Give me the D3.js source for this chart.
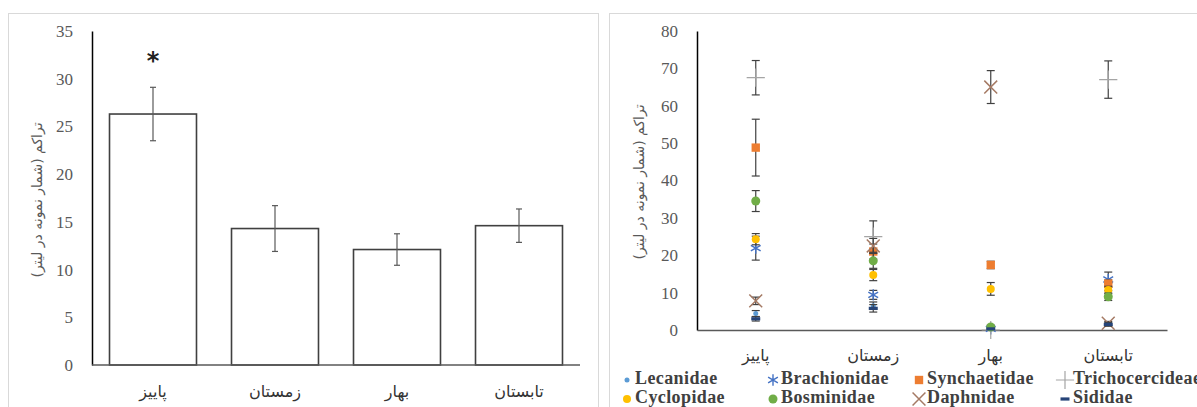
<!DOCTYPE html>
<html><head><meta charset="utf-8">
<script src="https://cdn.jsdelivr.net/npm/d3@7"></script>
<style>
html,body{margin:0;padding:0;background:#fff;}
svg{display:block;}
.serif{font-family:"Liberation Serif","DejaVu Serif","Times New Roman",serif;}
.persian{font-family:"DejaVu Sans",sans-serif;}
</style>
</head><body>
<svg id="chart" width="1197" height="407"></svg>
<script>
// ---------- data ----------
const seasons = ["پاییز", "زمستان", "بهار", "تابستان"];
const yTitle = "تراکم (شمار نمونه در لیتر)";

// left panel: total density
const totalMean = [26.3, 14.3, 12.1, 14.6];
const totalErr = [2.8, 2.4, 1.65, 1.75];
const leftTicks = [0, 5, 10, 15, 20, 25, 30, 35];
const significance = ["*", "", "", ""];

// right panel: families
const families = ["Lecanidae", "Brachionidae", "Synchaetidae", "Trichocercideae",
                  "Cyclopidae", "Bosminidae", "Daphnidae", "Sididae"];
const lecanidae = [4.4, 6.5, 0.5, 11.5];
const lecanidaeErr = [0.8, 1.0, 0.3, 1.0];
const brachionidae = [21.9, 9.4, 0.3, 13.5];
const brachionidaeErr = [3.2, 1.2, 0.3, 2.0];
const synchaetidae = [48.8, 21.0, 17.4, 12.4];
const synchaetidaeErr = [7.6, 2.0, 1.0, 1.0];
const trichocercidae = [67.5, 25.0, 0, 67.0];
const trichocercidaeErr = [4.6, 4.2, 0, 5.0];
const cyclopidae = [24.3, 14.7, 11.0, 10.7];
const cyclopidaeErr = [1.5, 1.5, 1.7, 1.0];
const bosminidae = [34.5, 18.5, 0.8, 8.9];
const bosminidaeErr = [2.8, 2.0, 0.5, 1.0];
const daphnidae = [7.8, 22.5, 65.0, 1.8];
const daphnidaeErr = [1.0, 2.0, 4.4, 0.5];
const sididae = [3.0, 5.8, 0.3, 1.5];
const sididaeErr = [0.6, 1.0, 0.2, 0.5];
const rightTicks = [0, 10, 20, 30, 40, 50, 60, 70, 80];

const familyValues = [lecanidae, brachionidae, synchaetidae, trichocercidae,
                      cyclopidae, bosminidae, daphnidae, sididae];
const familyErrors = [lecanidaeErr, brachionidaeErr, synchaetidaeErr, trichocercidaeErr,
                      cyclopidaeErr, bosminidaeErr, daphnidaeErr, sididaeErr];

// ---------- styles ----------
const colors = ["#5B9BD5", "#4472C4", "#ED7D31", "#A5A5A5", "#FFC000", "#70AD47", "#A57A64", "#264478"];
const shapes = ["dot", "asterisk", "square", "plus", "circleS", "circle", "times", "dash"];

const svg = d3.select("#chart");

// panel frames
svg.append("rect").attr("x", 8.5).attr("y", 13.5).attr("width", 590).attr("height", 400)
  .attr("fill", "none").attr("stroke", "#d9d9d9");
svg.append("rect").attr("x", 609.5).attr("y", 13.5).attr("width", 600).attr("height", 400)
  .attr("fill", "none").attr("stroke", "#d9d9d9");

// ---------- LEFT PANEL ----------
const xL = d3.scaleBand().domain(seasons).range([92, 580]).paddingInner(0.287).paddingOuter(0.1435);
const yL = d3.scaleLinear().domain([0, 35]).range([365, 31]);
const gL = svg.append("g");

gL.selectAll("rect.bar").data(seasons).join("rect")
  .attr("class", "bar")
  .attr("x", d => xL(d))
  .attr("y", (d, i) => yL(totalMean[i]))
  .attr("width", xL.bandwidth())
  .attr("height", (d, i) => yL(0) - yL(totalMean[i]))
  .attr("fill", "#fff").attr("stroke", "#404040").attr("stroke-width", 1.6);

const ebL = gL.selectAll("g.eb").data(seasons).join("g").attr("class", "eb");
ebL.append("line")
  .attr("x1", d => xL(d) + xL.bandwidth() / 2).attr("x2", d => xL(d) + xL.bandwidth() / 2)
  .attr("y1", (d, i) => yL(totalMean[i] + totalErr[i]))
  .attr("y2", (d, i) => yL(totalMean[i] - totalErr[i]))
  .attr("stroke", "#595959").attr("stroke-width", 1.2);
[1, -1].forEach(s => {
  ebL.append("line")
    .attr("x1", d => xL(d) + xL.bandwidth() / 2 - 3).attr("x2", d => xL(d) + xL.bandwidth() / 2 + 3)
    .attr("y1", (d, i) => yL(totalMean[i] + s * totalErr[i]))
    .attr("y2", (d, i) => yL(totalMean[i] + s * totalErr[i]))
    .attr("stroke", "#595959").attr("stroke-width", 1.2);
});

gL.selectAll("text.sig").data(seasons).join("text")
  .attr("class", "sig persian")
  .attr("x", d => xL(d) + xL.bandwidth() / 2)
  .attr("y", (d, i) => yL(totalMean[i] + totalErr[i]) - 18)
  .attr("text-anchor", "middle")
  .attr("font-weight", "bold")
  .attr("font-size", 24).attr("fill", "#222")
  .text((d, i) => significance[i]);

const axL = gL.append("g").attr("transform", "translate(92,0)")
  .call(d3.axisLeft(yL).tickValues(leftTicks).tickSize(0).tickSizeOuter(0).tickPadding(19));
axL.attr("font-family", null);
axL.select(".domain").attr("stroke", "#000").attr("stroke-width", 1.5);
axL.selectAll("text").attr("class", "serif").attr("font-size", 17).attr("fill", "#595959");

const axLx = gL.append("g").attr("transform", "translate(0,365)")
  .call(d3.axisBottom(xL).tickSize(0).tickSizeOuter(0).tickPadding(21));
axLx.attr("font-family", null);
axLx.select(".domain").attr("stroke", "#595959").attr("stroke-width", 1.6)
  .attr("d", "M92,0H580");
axLx.selectAll("text").attr("class", "persian").attr("font-size", 16).attr("fill", "#333");

gL.append("text").attr("class", "persian")
  .attr("transform", "translate(38,200) rotate(-90)")
  .attr("text-anchor", "middle").attr("dominant-baseline", "middle")
  .attr("font-size", 14).attr("fill", "#595959")
  .text(yTitle);

// ---------- RIGHT PANEL ----------
const xR = d3.scaleBand().domain(seasons).range([697, 1167]);
const yR = d3.scaleLinear().domain([0, 80]).range([330, 31]);
const gR = svg.append("g");

const axR = gR.append("g").attr("transform", "translate(697,0)")
  .call(d3.axisLeft(yR).tickValues(rightTicks).tickSize(0).tickSizeOuter(0).tickPadding(19));
axR.attr("font-family", null);
axR.select(".domain").attr("stroke", "#000").attr("stroke-width", 1.5);
axR.selectAll("text").attr("class", "serif").attr("font-size", 17).attr("fill", "#595959");

const axRx = gR.append("g").attr("transform", "translate(0,330)")
  .call(d3.axisBottom(xR).tickSize(0).tickSizeOuter(0).tickPadding(20));
axRx.attr("font-family", null);
axRx.select(".domain").attr("stroke", "#595959").attr("stroke-width", 1.6);
axRx.selectAll("text").attr("class", "persian").attr("font-size", 16).attr("fill", "#333");

gR.append("text").attr("class", "persian")
  .attr("transform", "translate(640,182) rotate(-90)")
  .attr("text-anchor", "middle").attr("dominant-baseline", "middle")
  .attr("font-size", 14).attr("fill", "#595959")
  .text(yTitle);

function drawMarker(sel, shape, color) {
  if (shape === "dot") {
    sel.append("circle").attr("r", 2.5).attr("fill", color);
  } else if (shape === "circleS") {
    sel.append("circle").attr("r", 4).attr("fill", color);
  } else if (shape === "circle") {
    sel.append("circle").attr("r", 4.5).attr("fill", color);
  } else if (shape === "square") {
    sel.append("path").attr("d", d3.symbol(d3.symbolSquare, 70)()).attr("fill", color);
  } else if (shape === "asterisk") {
    sel.append("path").attr("d", d3.symbol(d3.symbolAsterisk, 90)()).attr("fill", "none")
      .attr("stroke", color).attr("stroke-width", 1.4);
  } else if (shape === "plus") {
    sel.append("path").attr("d", d3.symbol(d3.symbolPlus, 110)()).attr("fill", "none")
      .attr("stroke", color).attr("stroke-width", 1.2);
  } else if (shape === "times") {
    sel.append("path").attr("d", d3.symbol(d3.symbolTimes, 110)()).attr("fill", "none")
      .attr("stroke", color).attr("stroke-width", 1.5);
  } else if (shape === "dash") {
    sel.append("line").attr("x1", -4.5).attr("x2", 4.5).attr("y1", 0).attr("y2", 0)
      .attr("stroke", color).attr("stroke-width", 3.2);
  }
}

families.forEach((fam, k) => {
  const vals = familyValues[k], errs = familyErrors[k];
  const g = gR.append("g");
  const pts = seasons.map((s, i) => ({ s, v: vals[i], e: errs[i] }));
  const eb = g.selectAll("g.eb").data(pts).join("g").attr("class", "eb")
    .attr("transform", d => `translate(${xR(d.s) + xR.bandwidth() / 2},0)`);
  eb.filter(d => d.e > 0.35).each(function (d) {
    const e = d3.select(this);
    e.append("line").attr("x1", 0).attr("x2", 0)
      .attr("y1", yR(d.v + d.e)).attr("y2", yR(Math.max(0, d.v - d.e)))
      .attr("stroke", "#404040").attr("stroke-width", 1.2);
    [d.v + d.e, Math.max(0, d.v - d.e)].forEach(y => {
      e.append("line").attr("x1", -4).attr("x2", 4).attr("y1", yR(y)).attr("y2", yR(y))
        .attr("stroke", "#404040").attr("stroke-width", 1.2);
    });
  });
  const mk = g.selectAll("g.mk").data(pts).join("g").attr("class", "mk")
    .attr("transform", d => `translate(${xR(d.s) + xR.bandwidth() / 2},${yR(d.v)})`);
  mk.each(function () { drawMarker(d3.select(this), shapes[k], colors[k]); });
});

// legend
const lg = svg.append("g");
const items = lg.selectAll("g.li").data(families).join("g").attr("class", "li")
  .attr("transform", (d, i) => `translate(${627 + (i % 4) * 146},${380 + Math.floor(i / 4) * 19})`);
items.each(function (d, i) { drawMarker(d3.select(this), shapes[i], colors[i]); });
items.append("text").attr("class", "serif").attr("x", 8).attr("y", 0).attr("dominant-baseline", "middle")
  .attr("font-weight", "bold").attr("font-size", 18)
  .attr("letter-spacing", 0.4).attr("fill", "#404040")
  .text(d => d);
</script>
</body></html>
